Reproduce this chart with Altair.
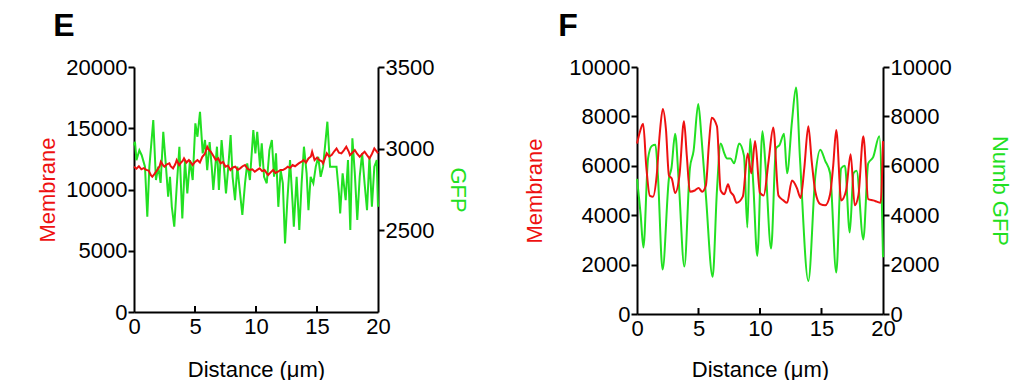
import altair as alt
import pandas as pd

RED = "#ee1111"
GREEN = "#22e022"

# ---------------- Panel E ----------------
e_red_x = [0.0,0.2,0.4,0.6,0.8,1.0,1.2,1.4,1.5,1.7,1.9,2.1,2.2,2.4,2.5,2.7,2.9,3.0,3.2,3.4,3.5,3.7,3.8,4.0,4.1,4.3,4.5,4.7,4.8,5.0,5.2,5.4,5.6,5.8,6.0,6.1,6.3,6.5,6.7,6.9,7.1,7.3,7.5,7.7,7.9,8.1,8.3,8.5,8.7,8.9,9.1,9.3,9.5,9.7,9.9,10.1,10.3,10.5,10.7,10.9,11.0,11.2,11.4,11.6,11.8,12.0,12.2,12.4,12.6,12.8,13.0,13.2,13.5,13.7,13.9,14.1,14.3,14.5,14.6,14.8,15.0,15.2,15.4,15.5,15.8,16.0,16.2,16.4,16.6,16.8,17.0,17.2,17.4,17.6,17.7,17.9,18.1,18.3,18.5,18.7,18.9,19.1,19.3,19.5,19.7,19.9,20.0]
e_red_y = [11860,11700,11900,11650,11750,11600,11550,11150,11040,11300,11590,11900,12265,11950,11860,12050,12130,11900,11725,12100,12400,12000,12130,12350,12540,12200,12400,12150,12000,12250,12400,12200,12670,12900,13490,13300,13080,12750,12400,12550,12130,12250,11860,11950,11590,11800,11860,11600,11725,11900,12000,11700,11590,11650,11450,11600,11725,11500,11590,11300,11180,11400,11590,11350,11450,11600,11590,11700,11860,11750,12000,11900,12130,12250,12400,12200,12540,12700,13080,12400,12600,12400,12300,12130,12950,12700,12810,13100,13350,13000,12950,13200,13490,13100,12810,13000,13220,12900,12670,12900,13080,12800,12540,12900,13350,13100,12950]

e_green_x = [0.0,0.08,0.2,0.44,0.63,0.9,1.09,1.26,1.58,1.8,1.99,2.18,2.4,2.62,2.8,2.95,3.1,3.3,3.5,3.72,3.96,4.18,4.37,4.59,4.81,5.03,5.2,5.41,5.63,5.82,6.0,6.2,6.37,6.5,6.8,6.96,7.18,7.37,7.54,7.73,7.92,8.08,8.28,8.47,8.88,9.1,9.28,9.5,9.78,9.95,10.1,10.33,10.47,10.66,10.88,11.1,11.3,11.48,11.64,11.83,12.02,12.2,12.38,12.57,12.79,13.0,13.1,13.33,13.55,13.74,13.93,14.15,14.3,14.48,14.7,14.9,15.1,15.3,15.5,15.85,16.07,16.34,16.6,16.8,16.9,17.1,17.35,17.54,17.73,17.9,18.1,18.3,18.5,18.7,18.9,19.1,19.3,19.5,19.7,19.9,20.0]
e_green_y = [3020,3042,2930,2990,2960,2890,2583,2890,3175,2808,2890,2790,3103,2890,2706,2828,2644,2522,2767,3012,2573,2930,2726,2930,2808,3155,3073,3226,2971,3053,2869,3040,2890,2747,3012,2747,3053,2890,2726,2890,3083,2828,2685,2890,2594,2788,2910,2808,3114,2971,3103,2890,3032,2828,2788,2991,3053,2828,2971,2644,2869,2788,2420,2685,2930,2665,2522,2828,2502,2788,3012,2849,2624,2828,2788,2890,2950,2828,2890,3165,2890,2890,2890,2726,2604,2849,2685,2930,2502,3063,2849,2563,2828,2971,2788,2624,2950,2644,2890,2930,2644]

# ---------------- Panel F ----------------
f_red_x = [0,0.25,0.5,0.75,1.05,1.3,1.6,1.85,2.1,2.35,2.6,2.83,3.1,3.45,3.82,4.05,4.3,4.7,5.0,5.3,5.6,5.85,6.07,6.5,6.8,7.1,7.4,7.6,7.85,8.1,8.6,9.0,9.3,9.6,10.0,10.3,10.7,11.08,11.5,11.9,12.2,12.6,13.0,13.3,13.6,13.93,14.2,14.5,14.9,15.3,15.7,15.95,16.2,16.6,17.0,17.37,17.7,18.0,18.4,18.8,19.2,19.5,19.8,20.0]
f_red_y = [6900,7400,7700,6000,4780,4750,5600,7300,8300,7500,5600,5480,4900,5600,7800,6400,4950,5000,5100,4950,5200,6900,7950,7600,5000,4850,5250,4950,4800,4500,4750,6500,5700,7000,4900,4800,6200,7550,4800,4600,4500,5400,5100,4700,5900,7600,6200,4950,4450,4400,4850,6000,7450,4600,5000,6470,4400,4800,7200,4650,4600,4550,4500,7000]

f_green_x = [0,0.3,0.52,0.9,1.2,1.5,1.7,2.08,2.6,2.8,3.1,3.4,3.85,4.3,4.6,4.98,5.25,5.6,6.15,6.5,6.8,7.1,7.3,7.6,7.9,8.3,8.7,8.97,9.2,9.45,9.78,10.2,10.45,10.9,11.3,11.6,11.95,12.2,12.6,12.93,13.25,13.93,14.5,14.9,15.3,15.7,16.2,16.6,16.9,17.3,17.6,17.85,18.4,18.8,19.2,19.7,20.0]
f_green_y = [5470,4000,2690,6300,6800,6850,5600,1800,5500,5900,7300,5300,1920,5900,6600,8500,7100,4800,1510,5000,6900,6500,6300,6300,6100,6900,6400,3500,7100,5300,2350,7400,6000,2650,6700,6850,7300,5700,7800,9170,6300,1340,5600,6650,6200,5700,1680,5900,6000,3300,5700,5800,3020,6100,6350,7200,2300]

x_ticks = [0, 5, 10, 15, 20]
inner_ticks = [5, 10, 15]
e_left_ticks = [0, 5000, 10000, 15000, 20000]
e_right_ticks = [2500, 3000, 3500]
f_left_ticks = [0, 2000, 4000, 6000, 8000, 10000]
f_right_ticks = [0, 2000, 4000, 6000, 8000, 10000]

FONT = "Liberation Sans"


def panel(rx, ry, gx, gy, left_dom, left_vals, right_dom, right_vals, right_title,
          letter, w, h, lpad, rpad, xpad, interp, lx, ly):
    red_df = pd.DataFrame({"x": rx, "v": ry})
    green_df = pd.DataFrame({"x": gx, "v": gy})
    xenc = alt.X("x:Q", scale=alt.Scale(domain=[0, 20], nice=False),
                 axis=alt.Axis(values=x_ticks, title="Distance (μm)", ticks=False,
                               labelFlush=False, format="d", labelPadding=4,
                               titlePadding=xpad))
    red = alt.Chart(red_df).mark_line(color=RED, strokeWidth=2, interpolate=interp).encode(
        x=xenc,
        y=alt.Y("v:Q", scale=alt.Scale(domain=left_dom, nice=False, zero=False),
                axis=alt.Axis(orient="left", values=left_vals, title="Membrane", format="d",
                              titleColor=RED, labelPadding=1, titlePadding=lpad)))
    green = alt.Chart(green_df).mark_line(color=GREEN, strokeWidth=2, interpolate=interp).encode(
        x=xenc,
        y=alt.Y("v:Q", scale=alt.Scale(domain=right_dom, nice=False, zero=False),
                axis=alt.Axis(orient="right", values=right_vals, title=right_title, format="d",
                              titleColor=GREEN, labelPadding=1, titlePadding=rpad)))
    tick_df = pd.DataFrame({"x": inner_ticks})
    ticks = alt.Chart(tick_df).mark_rule(color="black", strokeWidth=2).encode(
        x=xenc, y=alt.value(h), y2=alt.value(h - 6))
    lab_df = pd.DataFrame({"t": [letter]})
    lab = alt.Chart(lab_df).mark_text(fontSize=32, fontWeight="bold", font=FONT,
                                      color="black", align="center", baseline="middle").encode(
        x=alt.value(lx), y=alt.value(ly), text="t:N")
    return alt.layer(green, red, ticks, lab).resolve_scale(y="independent").properties(
        width=w, height=h)


pE = panel(e_red_x, e_red_y, e_green_x, e_green_y, [0, 20000], e_left_ticks,
           [2000, 3500], e_right_ticks, "GFP", "E", 244, 245, 6, 12, 22, "linear", -70, -41)
pF = panel(f_red_x, f_red_y, f_green_x, f_green_y, [0, 10000], f_left_ticks,
           [0, 10000], f_right_ticks, "Numb GFP", "F", 246, 247, 22, 36, 20, "monotone", -69, -41)

chart = alt.hconcat(pE, pF, spacing=54).properties(
    padding={"left": 28, "top": 2, "right": 0, "bottom": 0},
    background="white",
).configure_view(stroke=None).configure_axis(
    grid=False,
    domainColor="black", domainWidth=2,
    tickColor="black", tickWidth=2, tickSize=6,
    labelFont=FONT, labelFontSize=22, labelColor="black",
    titleFont=FONT, titleFontSize=22, titleFontWeight="normal", titleColor="black",
)

chart.save("out.html", embed_options={"renderer": "svg", "actions": False})
